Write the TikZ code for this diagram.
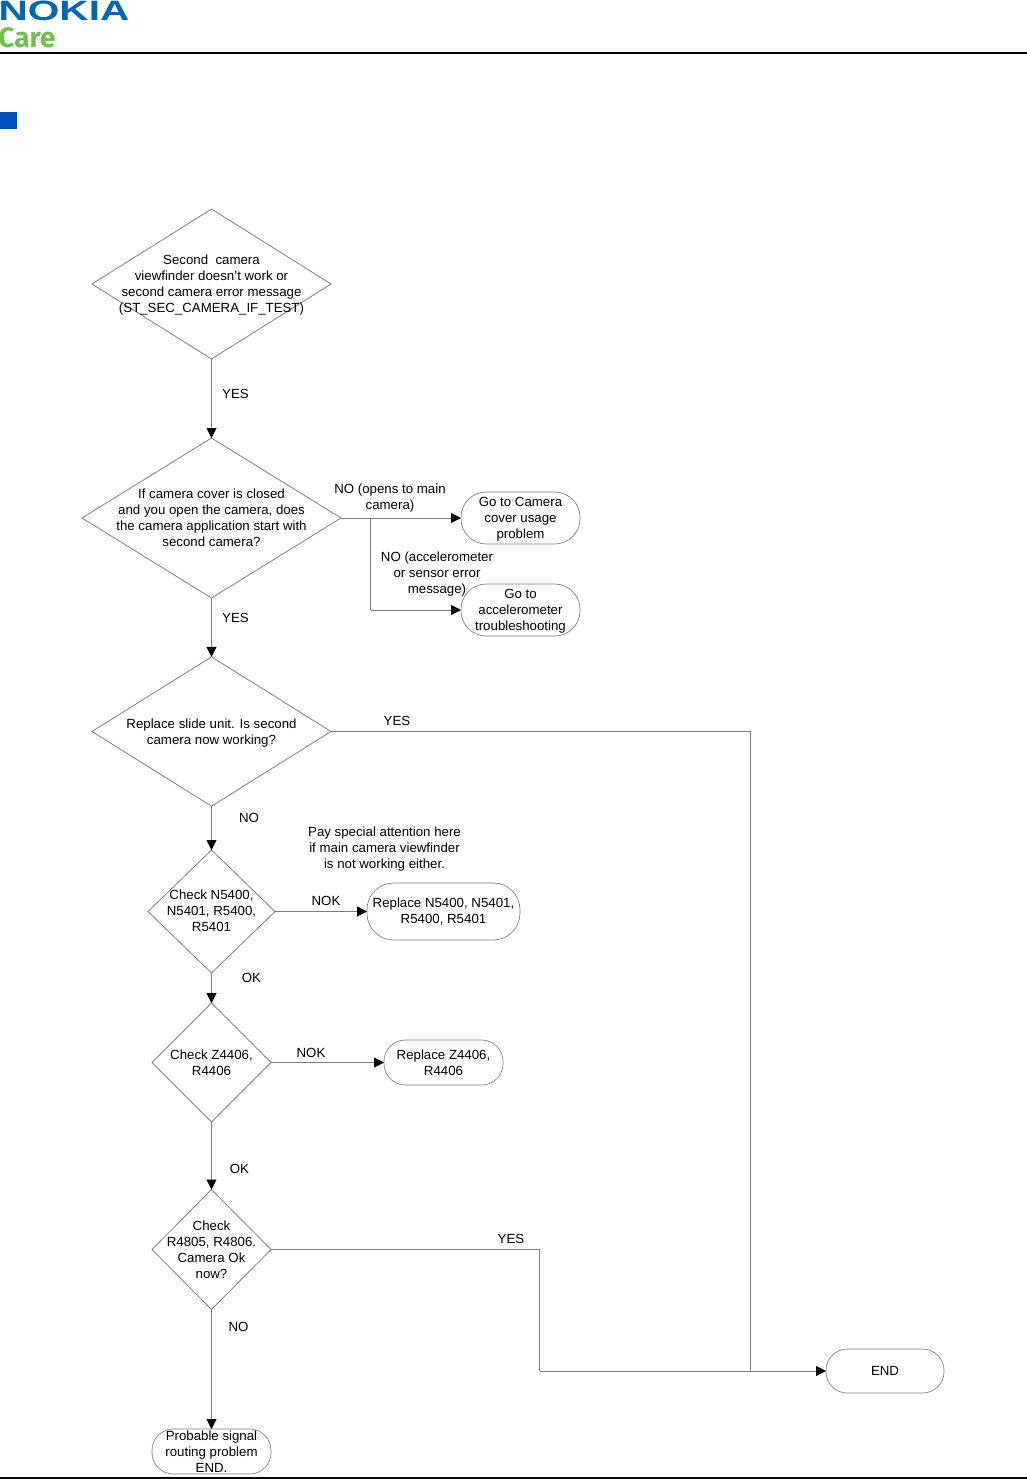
\documentclass[tikz,border=0pt]{standalone}
\usepackage{fontspec}
\setmainfont{Liberation Sans}
\newfontfamily\carefont{Fira Sans}
\usetikzlibrary{shapes.geometric,arrows.meta}
\definecolor{nokiablue}{RGB}{0,101,179}
\definecolor{caregreen}{RGB}{111,192,75}
\definecolor{squareblue}{RGB}{0,80,190}
\definecolor{linegray}{RGB}{125,125,125}
\tikzset{
  x=0.75pt,y=-0.75pt,
  dec/.style={diamond,draw=linegray,line width=0.6pt,inner sep=0pt,outer sep=0pt},
  term/.style={rectangle,draw=linegray,line width=0.5pt,inner sep=0pt,outer sep=0pt},
  txt/.style={align=center,inner sep=0pt,outer sep=0pt,font=\fontsize{9.95pt}{12pt}\selectfont},
  conn/.style={draw=linegray,line width=0.7pt},
  arr/.style={conn,-{Triangle[length=7.5pt,width=7.5pt,color=black]}},
  rulebar/.style={fill=black,inner sep=0pt,outer sep=0pt,anchor=north west}
}
\begin{document}
\begin{tikzpicture}
\useasboundingbox (0,0) rectangle (1027,1479);
% header
\node[inner sep=0pt,outer sep=0pt,anchor=center,text=nokiablue,font=\bfseries\fontsize{21pt}{21pt}\selectfont,xscale=1.45] (logo) at (64,11) {NOKIA};
\node[inner sep=0pt,outer sep=0pt,anchor=center,text=caregreen,font=\carefont\bfseries\fontsize{21pt}{21pt}\selectfont] (care) at (27,38) {Care};
\node[rulebar,minimum width=770.25pt,minimum height=1.5pt] (toprule) at (0,52) {};
\node[rulebar,minimum width=770.25pt,minimum height=1.5pt] (botrule) at (0,1476.5) {};
\node[fill=squareblue,inner sep=0pt,outer sep=0pt,anchor=north west,minimum width=12.75pt,minimum height=12.75pt] (sq) at (0,112) {};
% decisions
\node[dec,minimum width=179.25pt,minimum height=112.5pt,aspect=1.6] (d1) at (211.5,284) {};
\node[dec,minimum width=194.25pt,minimum height=120pt,aspect=1.6] (d2) at (211.5,518) {};
\node[dec,minimum width=179.25pt,minimum height=112pt,aspect=1.6] (d3) at (211.5,731.5) {};
\node[dec,minimum width=95.25pt,minimum height=92.25pt,aspect=1] (d4) at (211.5,911.5) {};
\node[dec,minimum width=89.25pt,minimum height=89.25pt,aspect=1] (d5) at (211.5,1062.5) {};
\node[dec,minimum width=89.25pt,minimum height=90pt,aspect=1] (d6) at (211.5,1249.5) {};
% terminals
\node[term,minimum width=89.25pt,minimum height=39pt,rounded corners=19pt] (t1) at (520.5,518) {};
\node[term,minimum width=89.25pt,minimum height=39pt,rounded corners=19pt] (t2) at (520.5,610) {};
\node[term,minimum width=114.75pt,minimum height=42.75pt,rounded corners=20pt] (t3) at (443.5,911.5) {};
\node[term,minimum width=89.25pt,minimum height=33.75pt,rounded corners=16pt] (t4) at (443.5,1062.5) {};
\node[term,minimum width=89.25pt,minimum height=33.75pt,rounded corners=16pt] (t5) at (211.5,1451.5) {};
\node[term,minimum width=88.5pt,minimum height=33pt,rounded corners=16pt] (endt) at (885,1371) {};
% junctions
\coordinate (j1) at (370.5,518);
\coordinate (j2) at (370.5,610);
\coordinate (j3) at (750.5,731.5);
\coordinate (j4) at (750.5,1371);
\coordinate (j5) at (539.5,1249.5);
\coordinate (j6) at (539.5,1371);
% connectors
\draw[arr] (d1.south) -- (d2.north);
\draw[arr] (d2.south) -- (d3.north);
\draw[arr] (d3.south) -- (d4.north);
\draw[arr] (d4.south) -- (d5.north);
\draw[arr] (d5.south) -- (d6.north);
\draw[arr] (d6.south) -- (t5.north);
\draw[arr] (d2.east) -- (t1.west);
\draw[conn] (j1) -- (j2);
\draw[arr] (j2) -- (t2.west);
\draw[arr] (d4.east) -- (t3.west);
\draw[arr] (d5.east) -- (t4.west);
\draw[conn] (d3.east) -- (j3) -- (j4);
\draw[conn] (d6.east) -- (j5) -- (j6);
\draw[arr] (j6) -- (endt.west);
% texts in shapes
\node[txt] (d1t) at (211.5,285.5) {Second\ \ camera\\viewfinder doesn’t work or\\second camera error message\\(ST\_SEC\_CAMERA\_IF\_TEST)};
\node[txt] (d2t) at (211.5,517.5) {If camera cover is closed\\and you open the camera, does\\the camera application start with\\second camera?};
\node[txt] (d3t) at (211.5,733) {Replace slide unit. Is second\\camera now working?};
\node[txt] (d4t) at (211.5,911) {Check N5400,\\N5401, R5400,\\R5401};
\node[txt] (d5t) at (211.5,1063) {Check Z4406,\\R4406};
\node[txt] (d6t) at (211.5,1249.5) {Check\\R4805, R4806.\\Camera Ok\\now?};
\node[txt] (t1t) at (520.5,519.5) {Go to Camera\\cover usage\\problem};
\node[txt] (t2t) at (520.5,611.5) {Go to\\accelerometer\\troubleshooting};
\node[txt] (t3t) at (443.5,911.5) {Replace N5400, N5401,\\R5400, R5401};
\node[txt] (t4t) at (443.5,1063) {Replace Z4406,\\R4406};
\node[txt] (t5t) at (211.5,1452) {Probable signal\\routing problem\\END.};
\node[txt] (endl) at (885,1371) {END};
% connector labels
\node[txt] (l1) at (235.5,393.5) {YES};
\node[txt] (l2) at (390,498) {NO (opens to main\\camera)};
\node[txt] (l3) at (437,574) {NO (accelerometer\\or sensor error\\message)};
\node[txt] (l4) at (235.5,617.5) {YES};
\node[txt] (l5) at (397,720.5) {YES};
\node[txt] (l6) at (249,817.5) {NO};
\node[txt] (l7) at (384.5,849) {Pay special attention here\\if main camera viewfinder\\is not working either.};
\node[txt] (l8) at (326,900.5) {NOK};
\node[txt] (l9) at (251.5,977.5) {OK};
\node[txt] (l10) at (311,1052.5) {NOK};
\node[txt] (l11) at (239.5,1169) {OK};
\node[txt] (l12) at (511,1238.5) {YES};
\node[txt] (l13) at (238.5,1326.5) {NO};
\end{tikzpicture}
\end{document}
